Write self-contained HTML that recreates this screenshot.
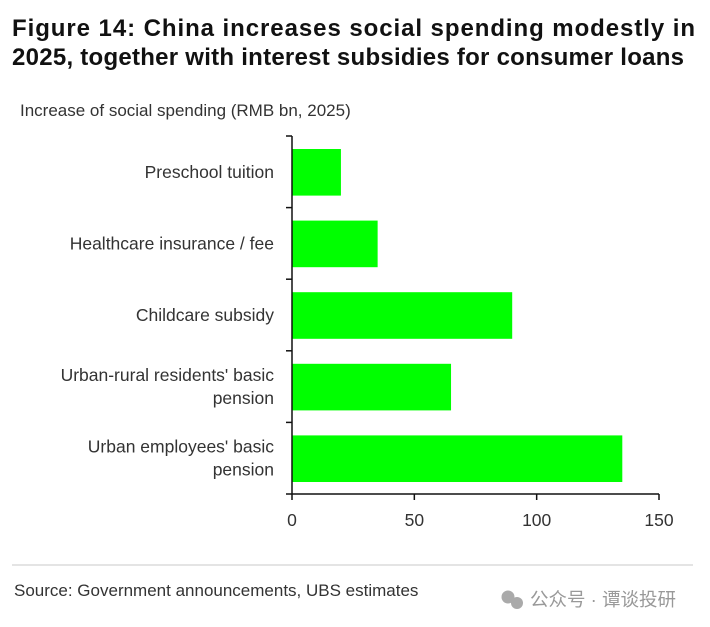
<!DOCTYPE html>
<html><head><meta charset="utf-8"><style>
body{margin:0;background:#fff;width:710px;height:627px;overflow:hidden;font-family:"Liberation Sans","Noto Sans CJK SC",sans-serif;}
</style></head><body>
<svg width="710" height="627" style="position:absolute;left:0;top:0">
<text x="12" y="36" font-size="24" font-weight="bold" fill="#111" textLength="683" lengthAdjust="spacing">Figure 14: China increases social spending modestly in</text>
<text x="12" y="65" font-size="24" font-weight="bold" fill="#111" textLength="672" lengthAdjust="spacing">2025, together with interest subsidies for consumer loans</text>
<text x="20" y="116" font-size="17" fill="#333">Increase of social spending (RMB bn, 2025)</text>
<g id="plot"></g>
<line x1="12" y1="565" x2="693" y2="565" stroke="#e4e4e4" stroke-width="2"/>
<text x="14" y="596" font-size="17" fill="#333">Source: Government announcements, UBS estimates</text>
<g>
<circle cx="508" cy="597" r="6.5" fill="#aaa"/><circle cx="517" cy="603" r="6" fill="#aaa"/>
<text x="530" y="606" font-size="18.5" fill="#999">公众号 · 谭谈投研</text>
</g>
</svg>
<script>
const categories=["Preschool tuition","Healthcare insurance / fee","Childcare subsidy","Urban-rural residents' basic|pension","Urban employees' basic|pension"];
const values=[20,35,90,65,135];
const ticks=[0,50,100,150];
const ns="http://www.w3.org/2000/svg";
const g=document.getElementById('plot');
const x0=292,x1=659,yTop=136,yBot=494,xmax=150;
const X=v=>x0+(v-0)/(xmax)*(x1-x0);
const band=(yBot-yTop)/categories.length;
function mk(t,a){const e=document.createElementNS(ns,t);for(const k in a)e.setAttribute(k,a[k]);g.appendChild(e);return e;}
categories.forEach((c,i)=>{
  const y=yTop+band*i;
  const r=mk('rect',{x:x0,y:y+13,width:X(values[i])-x0,height:band-25,fill:'#00ff00'});
  
  
  const lines=c.split('|');
  const cy=y+band/2;
  lines.forEach((l,j)=>{
    const t=mk('text',{x:274,y:cy+6+(j-(lines.length-1)/2)*23,'font-size':17.5,fill:'#333','text-anchor':'end'});
    t.textContent=l;
    
    
  });
});
for(let i=0;i<=categories.length;i++){
  const y=yTop+band*i;
  const tk=mk('line',{x1:286,y1:y,x2:x0,y2:y,stroke:'#111','stroke-width':1.5});
  
  
}
const ya=mk('line',{x1:x0,y1:yTop,x2:x0,y2:yBot,stroke:'#111','stroke-width':1.5});


const xa=mk('line',{x1:x0,y1:yBot,x2:x1,y2:yBot,stroke:'#111','stroke-width':1.5});


ticks.forEach(v=>{
  const l=mk('line',{x1:X(v),y1:yBot,x2:X(v),y2:yBot+6,stroke:'#111','stroke-width':1.5});
  
  
  const t=mk('text',{x:X(v),y:526,'font-size':17.5,fill:'#333','text-anchor':'middle'});
  t.textContent=v;
  
  
});
</script>
</body></html>
